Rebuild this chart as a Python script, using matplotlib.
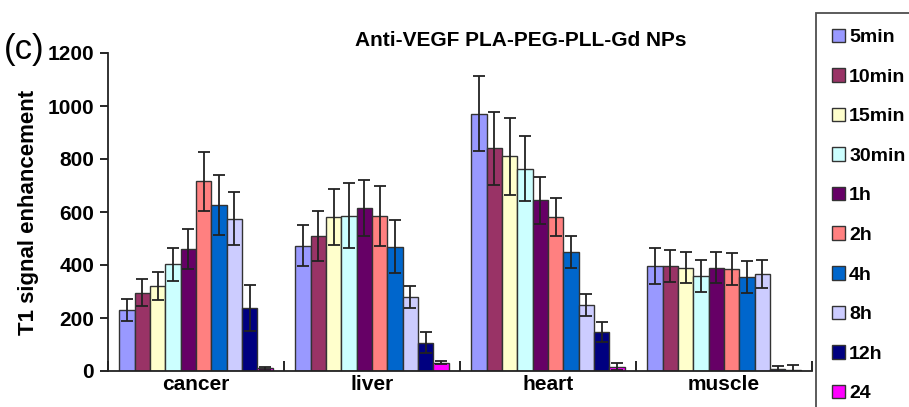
import numpy as np
import matplotlib
matplotlib.use("Agg")
import matplotlib.pyplot as plt
from matplotlib.patches import Patch

plt.rcParams["font.family"] = ["Liberation Sans", "DejaVu Sans"]

organs = ["cancer", "liver", "heart", "muscle"]
times = ["5min", "10min", "15min", "30min", "1h", "2h", "4h", "8h", "12h", "24"]
colors = ["#9999FF", "#993366", "#FFFFCC", "#CCFFFF", "#660066",
          "#FF8080", "#0066CC", "#CCCCFF", "#000080", "#FF00FF"]

# mean T1 signal enhancement per time point, in organ order
means = {
    "5min":  [230, 473, 971, 396],
    "10min": [296, 509, 840, 396],
    "15min": [320, 580, 810, 390],
    "30min": [403, 586, 764, 360],
    "1h":    [460, 615, 644, 390],
    "2h":    [716, 585, 580, 385],
    "4h":    [626, 468, 449, 355],
    "8h":    [574, 279, 248, 367],
    "12h":   [238, 107, 147, 6],
    "24":    [10, 31, 16, 5],
}
errors = {
    "5min":  [42, 78, 142, 67],
    "10min": [50, 95, 137, 61],
    "15min": [52, 106, 144, 59],
    "30min": [63, 123, 124, 60],
    "1h":    [75, 107, 89, 59],
    "2h":    [112, 113, 71, 59],
    "4h":    [112, 100, 62, 59],
    "8h":    [100, 40, 41, 53],
    "12h":   [88, 40, 37, 14],
    "24":    [5, 5, 13, 17],
}

fig = plt.figure(figsize=(9.09, 4.07), dpi=100)
ax = fig.add_axes([108 / 909, 36 / 407, 704 / 909, 318 / 407])

x = np.arange(len(organs))
w = 0.087
for i, t in enumerate(times):
    ax.bar(x + (i - 4.5) * w, means[t], width=w, color=colors[i],
           edgecolor="#333333", linewidth=1.0, label=t,
           yerr=errors[t], capsize=4.5,
           error_kw=dict(ecolor="#222222", elinewidth=1.3, capthick=1.3))

ax.set_xlim(-0.5, len(organs) - 0.5)
ax.set_ylim(0, 1200)
ax.set_yticks(np.arange(0, 1201, 200))
ax.set_xticks(x)
ax.set_xticklabels(organs, fontsize=15, fontweight="bold")
ax.set_xticks(np.arange(-0.5, len(organs)), minor=True)
ax.tick_params(axis="x", which="major", length=0, pad=3)
ax.tick_params(axis="x", which="minor", direction="in", length=7, width=1.2)
ax.tick_params(axis="y", direction="out", length=6, width=1.2, labelsize=15, pad=4)
for lab in ax.get_yticklabels():
    lab.set_fontweight("bold")
ax.spines["top"].set_visible(False)
ax.spines["right"].set_visible(False)
for s in ("left", "bottom"):
    ax.spines[s].set_linewidth(1.3)
    ax.spines[s].set_color("#222222")
ax.set_ylabel("T1 signal enhancement", fontsize=16, fontweight="bold", labelpad=6)

fig.text(521 / 909, 1 - 40 / 407, "Anti-VEGF PLA-PEG-PLL-Gd NPs",
         ha="center", va="center", fontsize=15, fontweight="bold")
fig.text(4 / 909, 1 - 50 / 407, "(c)", ha="left", va="center", fontsize=25)

handles = [Patch(facecolor=c, edgecolor="#333333", linewidth=1.0) for c in colors]
leg = fig.legend(handles, times, loc="upper left",
                 bbox_to_anchor=(816 / 909, 1 - 13 / 407),
                 prop=dict(size=14, weight="bold"),
                 handlelength=0.7, handleheight=0.7, handletextpad=0.2,
                 labelspacing=1.13, borderpad=0.8, borderaxespad=0,
                 fancybox=False, frameon=True)
leg.get_frame().set_edgecolor("#222222")
leg.get_frame().set_linewidth(1.3)

fig.savefig("out.png", dpi=100)
